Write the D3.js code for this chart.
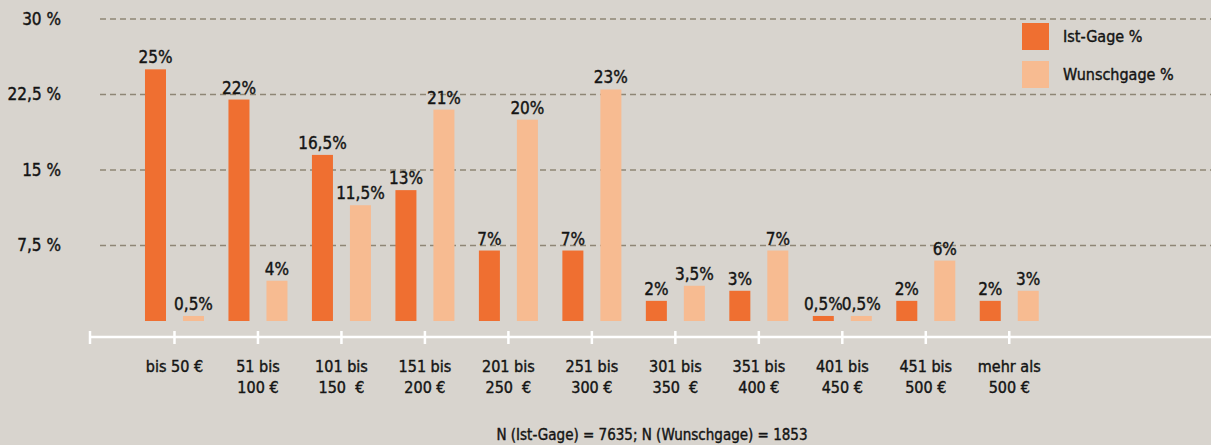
<!DOCTYPE html>
<html lang="de">

<head>
	<meta charset="utf-8">
	<title>Gage</title>
	<style>
		html, body { margin: 0; padding: 0; background: #d8d4ce; }
		svg { display: block; font-family: "DejaVu Sans Condensed", "DejaVu Sans", sans-serif; }
		text { fill: #141414; stroke: #141414; stroke-width: 0.4px; }
	</style>
</head>

<body>
	<script src="https://cdn.jsdelivr.net/npm/d3@7"></script>
	<script>

		// Werte aus der Grafik (in %)
		const categoryLines = [
			["bis 50 €"],
			["51 bis", "100 €"],
			["101 bis", "150  €"],
			["151 bis", "200 €"],
			["201 bis", "250  €"],
			["251 bis", "300 €"],
			["301 bis", "350  €"],
			["351 bis", "400 €"],
			["401 bis", "450 €"],
			["451 bis", "500 €"],
			["mehr als", "500 €"]
		];
		const istGage = [25, 22, 16.5, 13, 7, 7, 2, 3, 0.5, 2, 2];
		const wunschgage = [0.5, 4, 11.5, 21, 20, 23, 3.5, 7, 0.5, 6, 3];
		const seriesNames = ["Ist-Gage %", "Wunschgage %"];
		const seriesColors = ["#ef6f31", "#f7bb91"];
		const yTicks = [7.5, 15, 22.5, 30];
		const footnote = "N (Ist-Gage) = 7635; N (Wunschgage) = 1853";

		const width = 1211;
		const height = 445;

		const deComma = (v) => String(v).replace(".", ",");

		const svg = d3.select(document.body)
			.append("svg")
			.attr("width", width)
			.attr("height", height)
			.attr("viewBox", [0, 0, width, height]);

		const x = d3.scaleBand()
			.domain(d3.range(categoryLines.length))
			.range([132.75, 1051]);

		const xSub = d3.scaleBand()
			.domain([0, 1])
			.range([-29.5, 29.5])
			.paddingInner(0.447);

		const y = d3.scaleLinear()
			.domain([0, 30])
			.range([321, 19]);

		const cx = (i) => x(i) + x.bandwidth() / 2;

		// Gitterlinien + y-Beschriftung
		const grid = svg.append("g");
		grid.selectAll("line")
			.data(yTicks)
			.join("line")
			.attr("x1", 100)
			.attr("x2", width)
			.attr("y1", (d) => y(d))
			.attr("y2", (d) => y(d))
			.attr("stroke", "#8e8676")
			.attr("stroke-width", 1.5)
			.attr("stroke-dasharray", "6 4");

		grid.selectAll("text")
			.data(yTicks)
			.join("text")
			.attr("x", 61)
			.attr("y", (d) => y(d))
			.attr("dy", "0.35em")
			.attr("text-anchor", "end")
			.attr("font-size", 17)
			.text((d) => deComma(d) + " %");

		// Balken
		const series = [istGage, wunschgage];
		const rows = [];
		series.forEach((vals, s) => {
			vals.forEach((v, i) => rows.push({ i, s, v }));
		});

		const bars = svg.append("g");
		bars.selectAll("rect")
			.data(rows)
			.join("rect")
			.attr("x", (d) => cx(d.i) + xSub(d.s))
			.attr("width", xSub.bandwidth())
			.attr("y", (d) => y(d.v))
			.attr("height", (d) => y(0) - y(d.v))
			.attr("fill", (d) => seriesColors[d.s]);

		bars.selectAll("text")
			.data(rows)
			.join("text")
			.attr("x", (d) => cx(d.i) + xSub(d.s) + xSub.bandwidth() / 2)
			.attr("y", (d) => y(d.v) - 6)
			.attr("text-anchor", "middle")
			.attr("font-size", 17)
			.text((d) => deComma(d.v) + "%");

		// x-Achse
		const axisY = y(0) + 16;
		const axis = svg.append("g");
		axis.append("line")
			.attr("x1", 90)
			.attr("x2", width)
			.attr("y1", axisY)
			.attr("y2", axisY)
			.attr("stroke", "#ffffff")
			.attr("stroke-width", 2.5);

		const tickXs = [90].concat(d3.range(categoryLines.length).map(cx));
		axis.selectAll("line.tick")
			.data(tickXs)
			.join("line")
			.attr("class", "tick")
			.attr("x1", (d) => d)
			.attr("x2", (d) => d)
			.attr("y1", axisY - 6)
			.attr("y2", axisY + 7)
			.attr("stroke", "#ffffff")
			.attr("stroke-width", 2.5);

		const labels = axis.selectAll("text")
			.data(categoryLines)
			.join("text")
			.attr("text-anchor", "middle")
			.attr("font-size", 16)
			.style("white-space", "pre");

		labels.selectAll("tspan")
			.data((d, i) => d.map((t, k) => ({ t, k, i })))
			.join("tspan")
			.attr("x", (d) => cx(d.i))
			.attr("y", (d) => axisY + 35 + d.k * 21)
			.text((d) => d.t);

		// Legende
		const legend = svg.append("g")
			.attr("transform", "translate(1022,23)");
		const legendItem = legend.selectAll("g")
			.data(seriesNames)
			.join("g")
			.attr("transform", (d, i) => `translate(0,${i * 38})`);
		legendItem.append("rect")
			.attr("width", 27)
			.attr("height", 27)
			.attr("fill", (d, i) => seriesColors[i]);
		legendItem.append("text")
			.attr("x", 41)
			.attr("y", 19)
			.attr("font-size", 16)
			.text((d) => d);

		// Fußnote
		svg.append("text")
			.attr("x", 652)
			.attr("y", 440)
			.attr("text-anchor", "middle")
			.attr("font-size", 15)
			.text(footnote);

	</script>
</body>

</html>
